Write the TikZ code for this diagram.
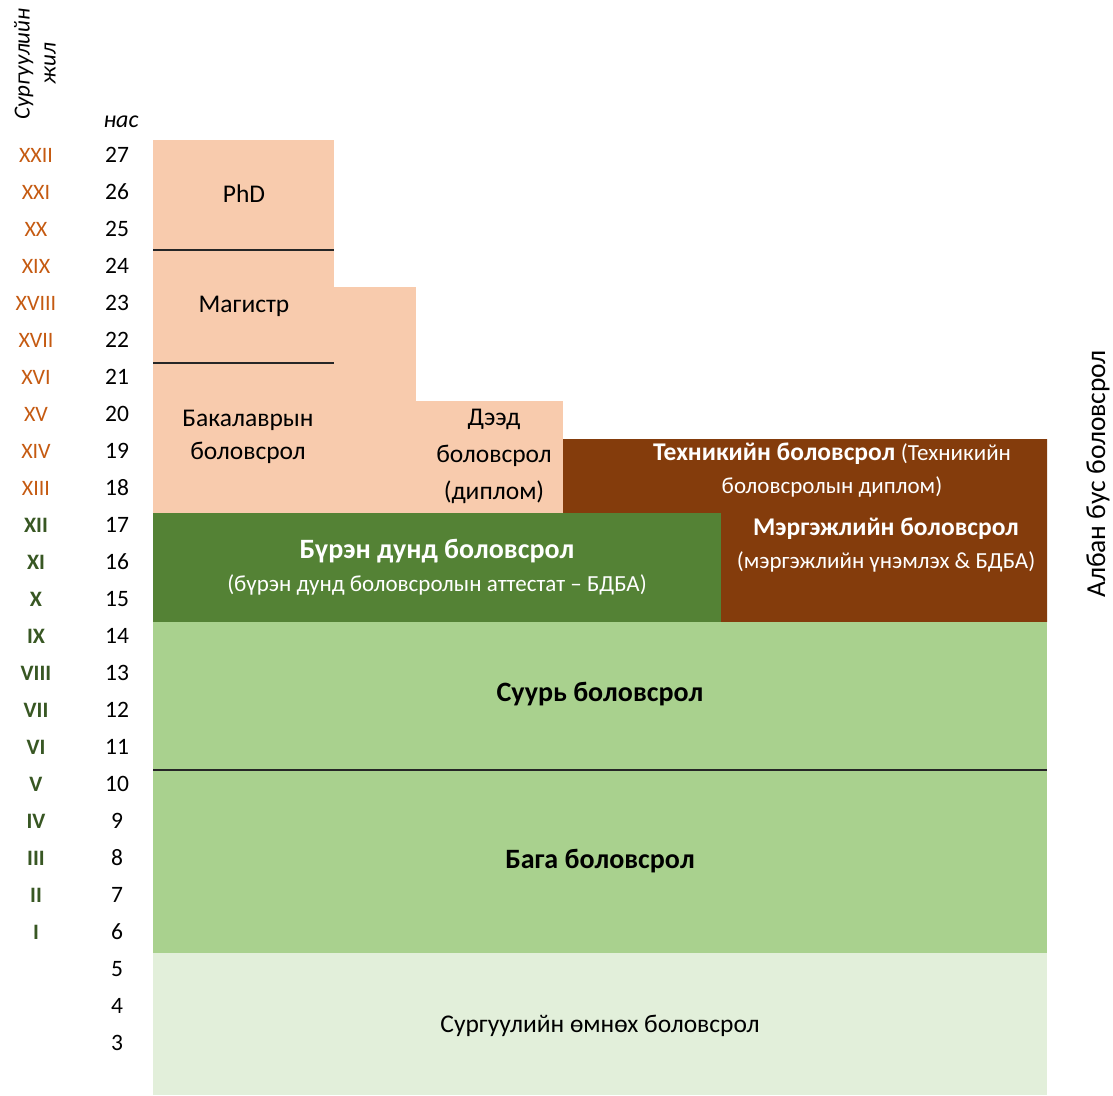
\documentclass[tikz,border=0pt]{standalone}
\usepackage{fontspec}
\setmainfont{Carlito}
\usepackage{tikz}
\usepackage{xcolor}

\definecolor{peach}{HTML}{F8CBAD}
\definecolor{techbrown}{HTML}{843C0C}
\definecolor{fullgreen}{HTML}{548235}
\definecolor{basegreen}{HTML}{A9D18E}
\definecolor{palegreen}{HTML}{E2EFDA}
\definecolor{romanorange}{HTML}{C55A11}
\definecolor{romangreen}{HTML}{385723}

\newcommand{\subnote}{\fontsize{23}{31}\selectfont\mdseries}

\begin{document}
\begin{tikzpicture}[x=1pt,y=-1pt,
        boxtext/.style={font=\fontsize{25.5}{33}\selectfont, align=center, inner sep=0pt},
        whitetext/.style={boxtext, text=white},
        bigbold/.style={boxtext, font=\fontsize{28}{33}\selectfont\bfseries},
        agetext/.style={font=\fontsize{23.5}{28}\selectfont, inner sep=0pt},
        romanup/.style={font=\fontsize{22}{26}\selectfont, text=romanorange, inner sep=0pt},
        romanlow/.style={font=\fontsize{22}{26}\selectfont\bfseries, text=romangreen, inner sep=0pt},
        sepline/.style={line width=1.1pt, draw=black!85}]
    \useasboundingbox (0,0) rectangle (1113,1095);
    % blocks
    \fill[peach] (153,140) rectangle (334,513);
    \fill[peach] (334,287) rectangle (416,513);
    \fill[peach] (416,401) rectangle (563,513);
    \fill[techbrown] (563,439) -- (1047,439) -- (1047,622) -- (721,622)
                     -- (721,513) -- (563,513) -- cycle;
    \fill[fullgreen] (153,513) rectangle (721,622);
    \fill[basegreen] (153,622) rectangle (1047,953);
    \fill[palegreen] (153,953) rectangle (1047,1095);
    \draw[sepline] (153,250) -- (334,250);
    \draw[sepline] (153,363) -- (334,363);
    \draw[sepline] (153,770) -- (1047,770);
    % headings
    \node[font=\fontsize{23}{26}\selectfont\itshape, align=center, rotate=90, inner sep=0pt]
        (years) at (35,64) {Сургуулийн\\жил};
    \node[font=\fontsize{24}{28}\selectfont\itshape, inner sep=0pt] (age) at (121,122) {нас};
    \node[font=\fontsize{27.5}{30}\selectfont, rotate=90, inner sep=0pt]
        (informal) at (1098,474) {Албан бус боловсрол};
    % ages and school years
    \foreach \a in {3,...,27}
        \node[agetext] (age\a) at (117,{155+(27-\a)*37}) {\a};
    \foreach \r [count=\i] in {XXII,XXI,XX,XIX,XVIII,XVII,XVI,XV,XIV,XIII}
        \node[romanup] (yr\i) at (36,{155+(\i-1)*37}) {\r};
    \foreach \r [count=\i from 11] in {XII,XI,X,IX,VIII,VII,VI,V,IV,III,II,I}
        \node[romanlow] (yr\i) at (36,{155+(\i-1)*37}) {\r};
    % levels
    \node[boxtext] (phd) at (244,194) {PhD};
    \node[boxtext] (master) at (244,306) {Магистр};
    \node[boxtext] (bachelor) at (248,437) {Бакалаврын\\боловсрол};
    \node[boxtext, font=\fontsize{25.5}{37}\selectfont] (diploma) at (494,456)
        {Дээд\\боловсрол\\(диплом)};
    \node[whitetext] (technical) at (832,470)
        {{\bfseries Техникийн боловсрол} {\subnote(Техникийн}\\{\subnote боловсролын диплом)}};
    \node[whitetext] (vocational) at (886,545)
        {{\bfseries Мэргэжлийн боловсрол}\\{\subnote(мэргэжлийн үнэмлэх \& БДБА)}};
    \node[whitetext, font=\fontsize{28}{33}\selectfont\bfseries] (upper) at (437,567)
        {Бүрэн дунд боловсрол\\{\subnote(бүрэн дунд боловсролын аттестат – БДБА)}};
    \node[bigbold] (basic) at (600,694) {Суурь боловсрол};
    \node[bigbold] (primary) at (600,861) {Бага боловсрол};
    \node[boxtext] (preschool) at (600,1026) {Сургуулийн өмнөх боловсрол};
\end{tikzpicture}
\end{document}
